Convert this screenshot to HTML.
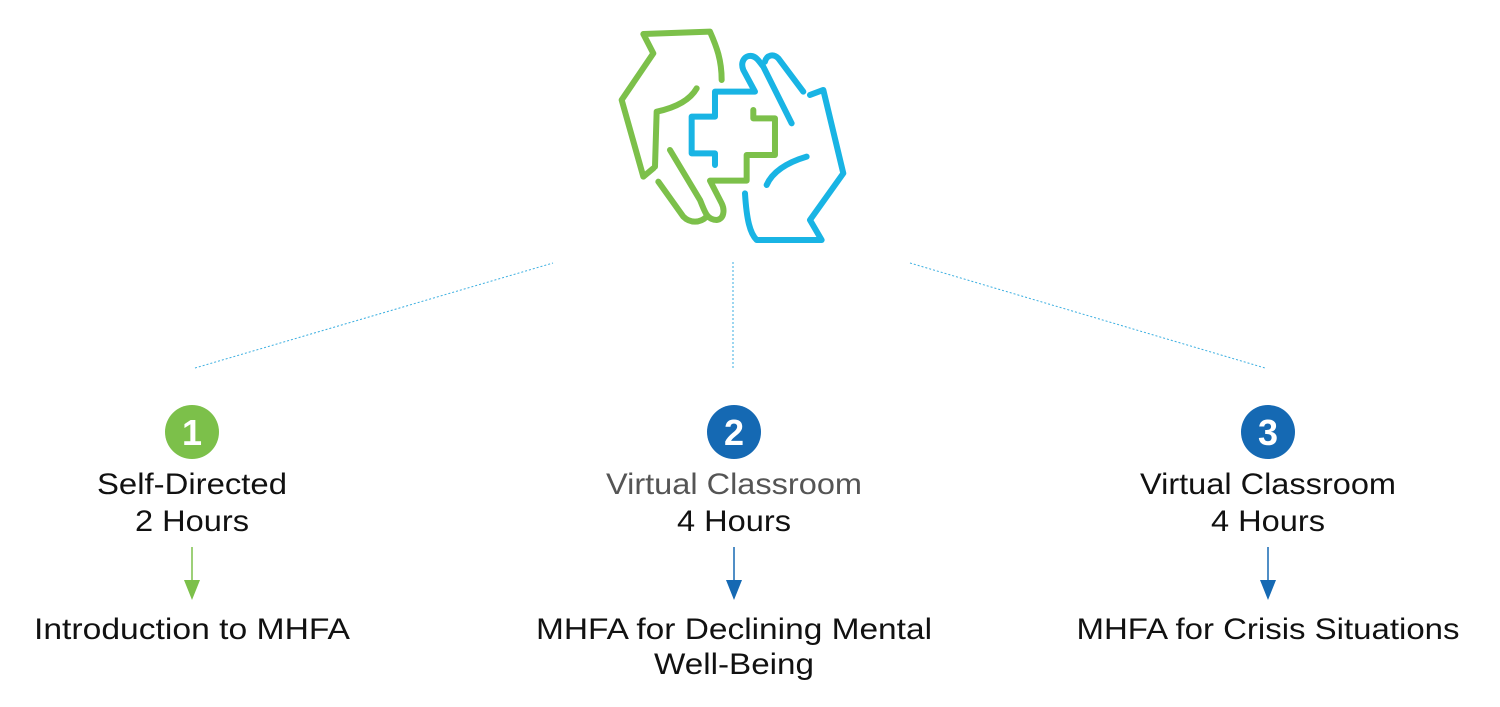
<!DOCTYPE html>
<html><head><meta charset="utf-8"><style>
html,body{margin:0;padding:0;background:#fff;}
svg{display:block;}
</style></head><body>
<svg width="1500" height="707" viewBox="0 0 1500 707" xmlns="http://www.w3.org/2000/svg" font-family="Liberation Sans, sans-serif">
<g transform="translate(600,20) scale(0.3333)" fill="none" stroke-width="18" stroke-linecap="round" stroke-linejoin="round">
  <g stroke="#7cc04a">
    <path d="M365,180 C365,120 350,80 330,35 L130,42 L160,100 L65,240 L130,470 L160,445"/>
    <path d="M290,205 C270,240 230,262 170,275 L165,440"/>
    <path d="M175,485 L250,590 C270,610 300,610 320,590"/>
    <path d="M210,390 L300,540 C315,575 320,600 350,600 C372,598 375,570 365,550 L330,482 L440,482 L440,405 L525,405 L525,295 L460,295 L460,270"/>
  </g>
  <g stroke="#19b4e4">
    <path d="M345,435 L345,400 L275,400 L275,290 L345,290 L345,215 L465,215 L430,150 C420,125 435,105 455,108 C470,110 478,125 490,140 L575,310"/>
    <path d="M495,125 C500,105 520,100 535,115 L610,215"/>
    <path d="M630,225 L670,210 L730,460 L630,600 L665,660 L470,660 C450,640 440,600 435,520"/>
    <path d="M500,495 C520,450 570,425 620,410"/>
  </g>
</g>
<g stroke="#3aaee0" stroke-width="1" stroke-dasharray="2,2">
  <line x1="195" y1="368" x2="553" y2="263"/>
  <line x1="733" y1="262" x2="733" y2="368"/>
  <line x1="910" y1="263" x2="1265" y2="368"/>
</g>
<circle cx="192" cy="432" r="27" fill="#7cc04a"/>
<circle cx="734" cy="432" r="27" fill="#1569b3"/>
<circle cx="1268" cy="432" r="27" fill="#1569b3"/>
<g fill="#fff" font-size="36" font-weight="bold" text-anchor="middle">
  <text x="192" y="445">1</text>
  <text x="734" y="445">2</text>
  <text x="1268" y="445">3</text>
</g>
<g font-size="30" text-anchor="middle" fill="#111">
  <text x="192" y="494" textLength="190" lengthAdjust="spacingAndGlyphs" font-weight="300">Self-Directed</text>
  <text x="192" y="531" textLength="114" lengthAdjust="spacingAndGlyphs">2 Hours</text>
  <text x="734" y="494" textLength="256" lengthAdjust="spacingAndGlyphs" fill="#555">Virtual Classroom</text>
  <text x="734" y="531" textLength="114" lengthAdjust="spacingAndGlyphs">4 Hours</text>
  <text x="1268" y="494" textLength="256" lengthAdjust="spacingAndGlyphs">Virtual Classroom</text>
  <text x="1268" y="531" textLength="114" lengthAdjust="spacingAndGlyphs">4 Hours</text>
  <text x="192" y="639" textLength="316" lengthAdjust="spacingAndGlyphs">Introduction to MHFA</text>
  <text x="734" y="639" textLength="396" lengthAdjust="spacingAndGlyphs">MHFA for Declining Mental</text>
  <text x="734" y="674" textLength="160" lengthAdjust="spacingAndGlyphs">Well-Being</text>
  <text x="1268" y="639" textLength="383" lengthAdjust="spacingAndGlyphs">MHFA for Crisis Situations</text>
</g>
<g stroke-width="1.5">
  <line x1="192" y1="547" x2="192" y2="583" stroke="#7cc04a"/>
  <line x1="734" y1="547" x2="734" y2="583" stroke="#1569b3"/>
  <line x1="1268" y1="547" x2="1268" y2="583" stroke="#1569b3"/>
</g>
<polygon points="184,580 200,580 192,600" fill="#7cc04a"/>
<polygon points="726,580 742,580 734,600" fill="#1569b3"/>
<polygon points="1260,580 1276,580 1268,600" fill="#1569b3"/>
</svg>
</body></html>
